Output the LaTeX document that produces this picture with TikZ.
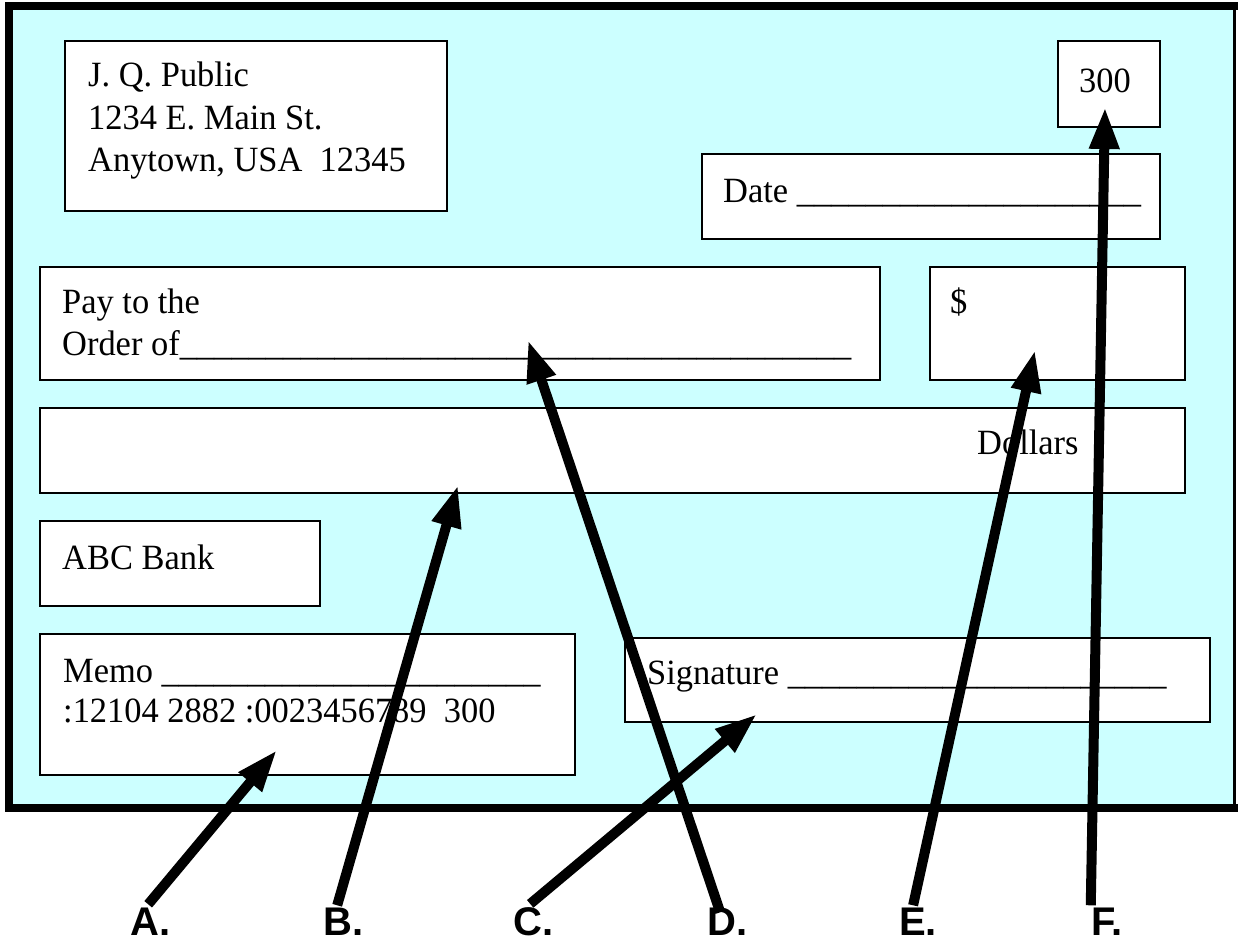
\documentclass[tikz,border=0pt]{standalone}
\usepackage{fontspec}
\setmainfont{Liberation Serif}[FakeStretch=0.97]
\newfontfamily\tagfont{Liberation Sans}
\usetikzlibrary{arrows.meta}
\definecolor{checkcyan}{RGB}{204,255,255}
% a run of n underscores, used for the blank lines to write on
\newcommand\blanks[1]{\ifnum#1>0\relax\_\expandafter\blanks\expandafter{\the\numexpr#1-1\relax}\fi}
\begin{document}
\begin{tikzpicture}[x=1pt,y=-1pt,
  field/.style={draw=black, line width=1.5pt, fill=white, anchor=north west, inner sep=0pt, outer sep=0pt},
  txt/.style={anchor=base west, inner sep=0pt, font=\fontsize{35.5}{42}\selectfont},
  tag/.style={anchor=base west, inner sep=0pt, font=\fontsize{40}{40}\selectfont\tagfont\bfseries},
  pointer/.style={line width=10pt, -{Triangle[length=42pt,width=28pt]}}]
\useasboundingbox (0,0) rectangle (1238,941);

% the cheque
\fill[checkcyan] (9,6) rectangle (1235,808);
\draw[line width=8pt] (1238,807.5) -- (9,807.5) -- (9,6.5) -- (1238,6.5);
\draw[line width=2.5pt] (1234.5,6) -- (1234.5,808);

% fields
\node[field, minimum width=382pt, minimum height=170pt] (addrbox) at (65,41) {};
\node[field, minimum width=102pt, minimum height=86pt] (numbox) at (1058,41) {};
\node[field, minimum width=458pt, minimum height=85pt] (datebox) at (702,154) {};
\node[field, minimum width=840pt, minimum height=113pt] (paybox) at (40,267) {};
\node[field, minimum width=255pt, minimum height=113pt] (amtbox) at (930,267) {};
\node[field, minimum width=1145pt, minimum height=85pt] (dollbox) at (40,408) {};
\node[field, minimum width=280pt, minimum height=85pt] (bankbox) at (40,521) {};
\node[field, minimum width=535pt, minimum height=141pt] (memobox) at (40,634) {};
\node[field, minimum width=585pt, minimum height=84pt] (sigbox) at (625,638) {};

% printed text
\node[txt] (addr1) at (88,87) {J. Q. Public};
\node[txt] (addr2) at (88,130) {1234 E. Main St.};
\node[txt] (addr3) at (88,172) {Anytown, USA\ \ 12345};
\node[txt] (num) at (1079,93) {300};
\node[txt] (date) at (723,203) {Date \blanks{20}};
\node[txt] (pay1) at (62,313) {Pay to the};
\node[txt] (pay2) at (62,355) {Order of\blanks{39}};
\node[txt] (amt) at (950,313) {\$};
\node[txt] (doll) at (977,454) {Dollars};
\node[txt] (bank) at (62,569) {ABC Bank};
\node[txt] (memo) at (63,682) {Memo \blanks{22}};
\node[txt] (micr) at (63,722) {:12104 2882 :0023456789\ \ 300};
\node[txt] (sig) at (647,684) {Signature \blanks{22}};

% labels under the cheque
\node[tag] (la) at (130,935) {A.};
\node[tag] (lb) at (323,935) {B.};
\node[tag] (lc) at (513,935) {C.};
\node[tag] (ld) at (707,935) {D.};
\node[tag] (le) at (899,935) {E.};
\node[tag] (lf) at (1091,935) {F.};

% where each pointer lands
\coordinate (tipA) at (277,750);
\coordinate (tipB) at (458,485);
\coordinate (tipC) at (757,714);
\coordinate (tipD) at (528,340);
\coordinate (tipE) at (1035,350);
\coordinate (tipF) at (1105,107);

\draw[pointer] ([xshift=-2pt,yshift=3pt]la.north) -- (tipA);
\draw[pointer] ([xshift=-6pt,yshift=2pt]lb.north) -- (tipB);
\draw[pointer] ([xshift=-3pt,yshift=3pt]lc.north) -- (tipC);
\draw[pointer] ([xshift=-7pt,yshift=-5pt]ld.north) -- (tipD);
\draw[pointer] ([xshift=-5pt,yshift=2pt]le.north) -- (tipE);
\draw[pointer] ([xshift=-16pt,yshift=2pt]lf.north) -- (tipF);
\end{tikzpicture}
\end{document}
